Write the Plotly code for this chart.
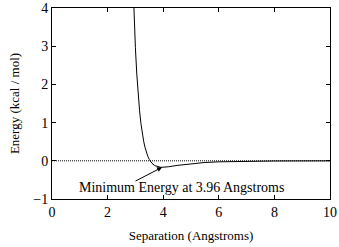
import plotly.graph_objects as go

# Separation (Angstroms) and energy (kcal/mol)
separation = [2.9, 2.95, 3.0, 3.05, 3.1, 3.15, 3.2, 3.25, 3.3, 3.35, 3.4, 3.45, 3.5,
              3.6, 3.7, 3.8, 3.9, 3.96, 4.0, 4.1, 4.2, 4.5, 5.0, 5.5, 6.0, 7.0, 8.0, 9.0, 10.0]
energy = [4.94, 3.83, 2.96, 2.27, 1.73, 1.31, 0.97, 0.71, 0.50, 0.34, 0.21, 0.11, 0.035,
          -0.069, -0.127, -0.157, -0.168, -0.170, -0.169, -0.164, -0.155, -0.121, -0.074,
          -0.044, -0.027, -0.011, -0.005, -0.0025, -0.0013]

zero_x = [0, 10]
zero_y = [0, 0]

min_x = 3.96
min_y = -0.17
label = "Minimum Energy at 3.96 Angstroms"

x_ticks = [0, 2, 4, 6, 8, 10]
y_ticks = [-1, 0, 1, 2, 3, 4]

fam = "Liberation Serif"
font = dict(family=fam, size=14, color="black")
small = dict(family=fam, size=13, color="black")

fig = go.Figure()
fig.add_trace(go.Scatter(x=zero_x, y=zero_y, mode="lines",
                         line=dict(color="black", width=1, dash="1px,1px"), showlegend=False))
fig.add_trace(go.Scatter(x=separation, y=energy, mode="lines",
                         line=dict(color="black", width=1), showlegend=False))

fig.add_annotation(x=min_x, y=min_y, ax=2.95, ay=-0.55, axref="x", ayref="y",
                   xref="x", yref="y", text="", showarrow=True,
                   arrowhead=2, arrowsize=1, arrowwidth=1, arrowcolor="black")
fig.add_annotation(x=4.66, y=-0.7, xref="x", yref="y", text=label, showarrow=False,
                   xanchor="center", yanchor="middle", font=font)

axis_common = dict(showline=True, linecolor="black", linewidth=1, mirror="ticks",
                   ticks="inside", ticklen=4, tickcolor="black", showgrid=False,
                   zeroline=False, tickfont=font, automargin=False)
fig.update_xaxes(range=[0, 10], tickvals=x_ticks,
                 title=dict(text="Separation (Angstroms)", font=small, standoff=12),
                 **axis_common)
fig.update_yaxes(range=[-1, 4], tickvals=y_ticks,
                 title=dict(text="Energy (kcal / mol)", font=small, standoff=10),
                 **axis_common)

fig.update_layout(width=339, height=247, margin=dict(l=52, r=9, t=8, b=48),
                  plot_bgcolor="white", paper_bgcolor="white", font=font)

fig.write_html("out.html", config={"displayModeBar": False},
               post_script="document.body.style.margin='0';document.body.style.overflow='hidden';")
